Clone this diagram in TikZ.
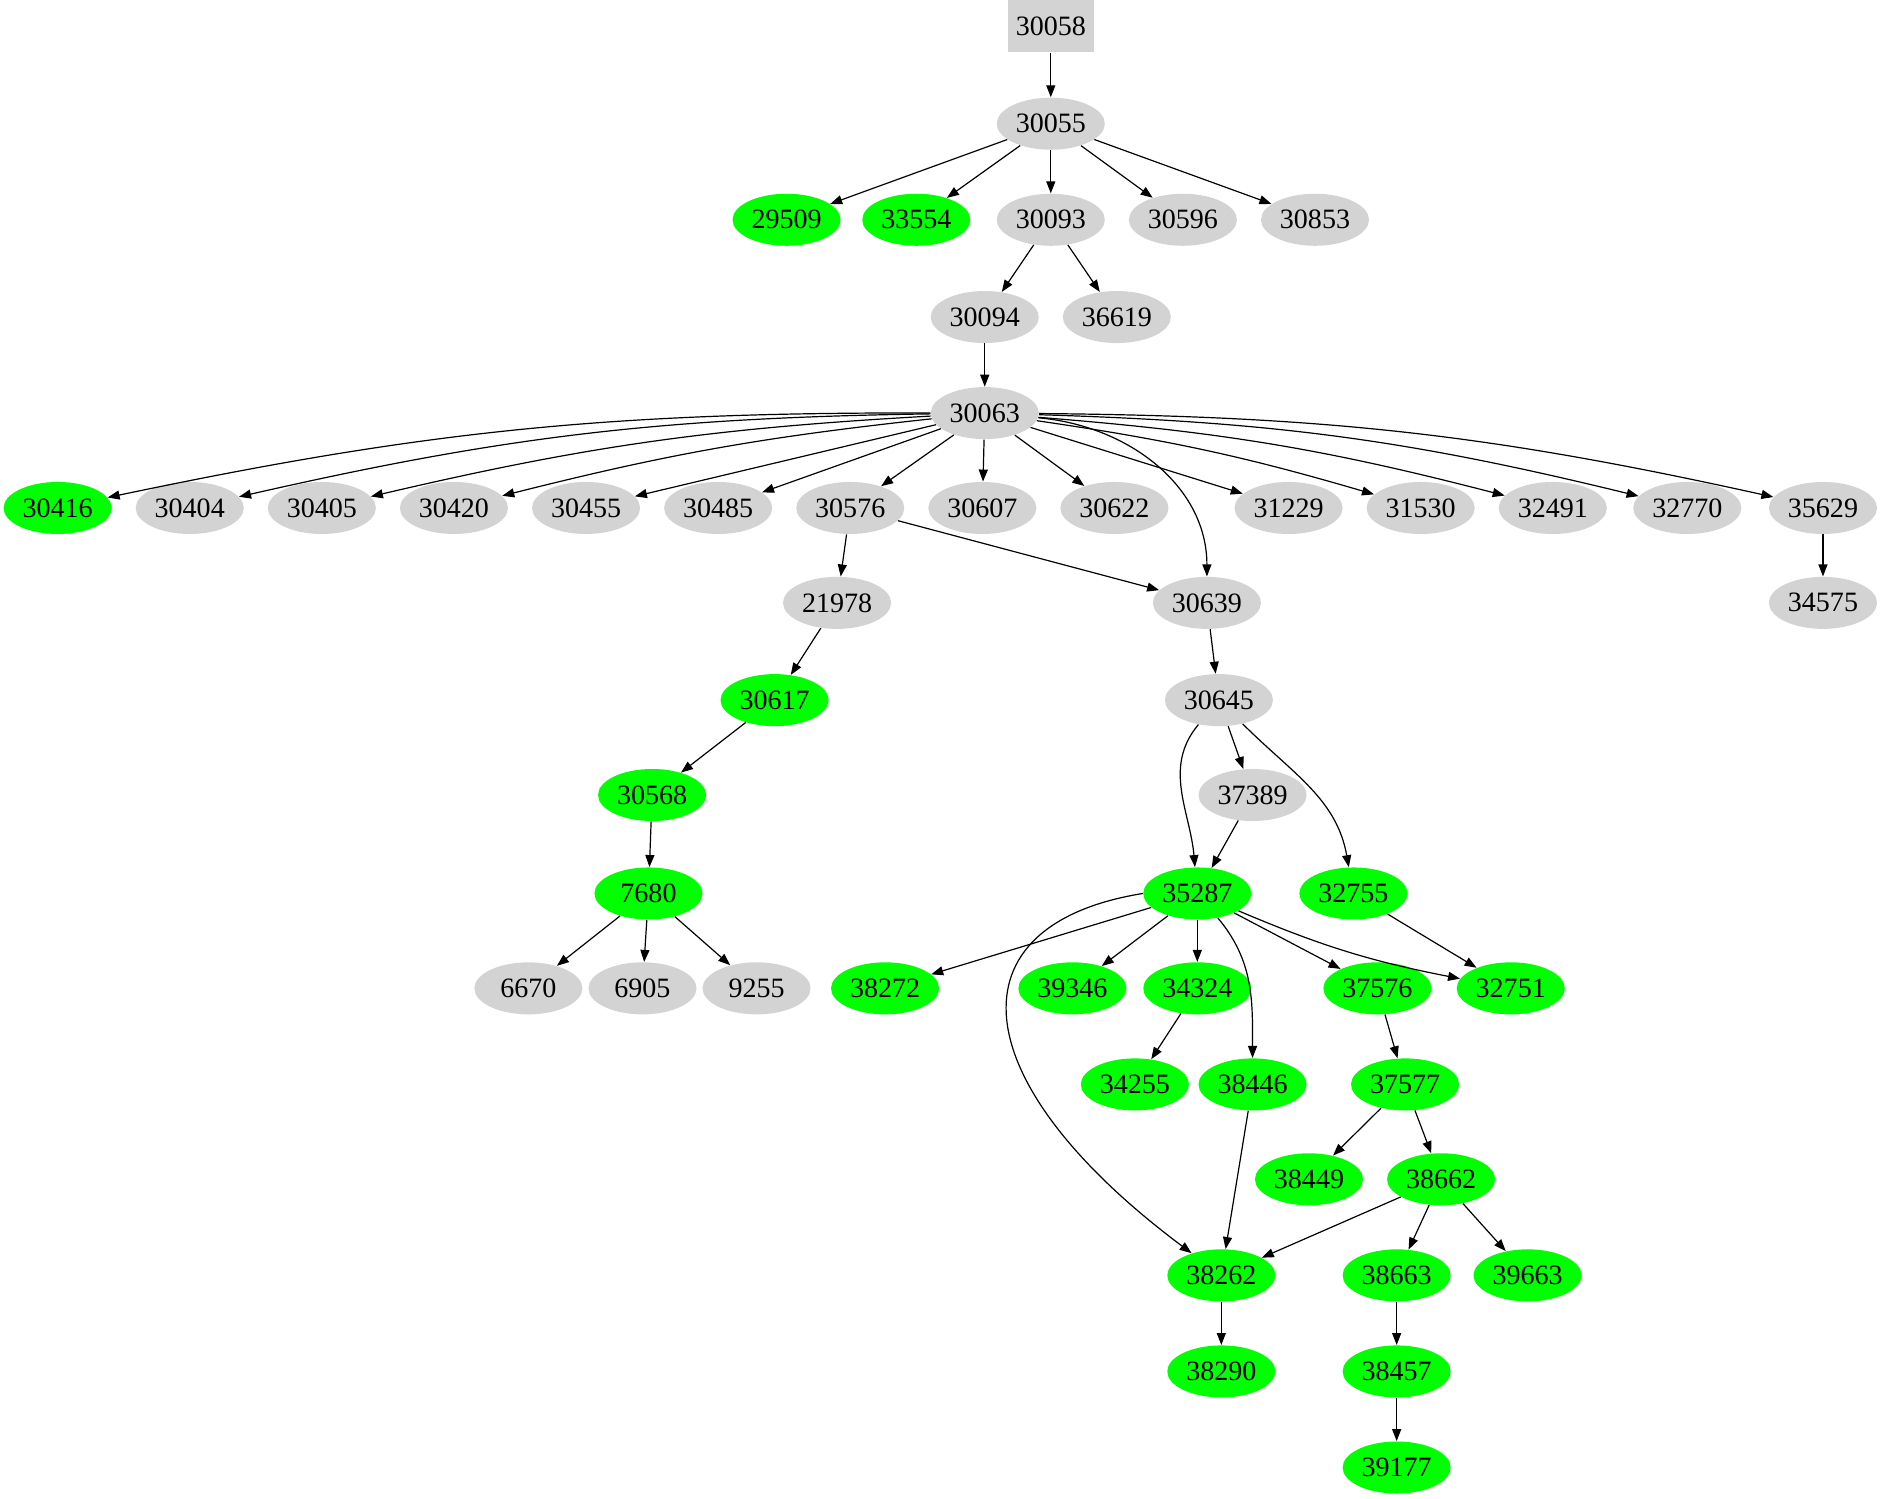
\documentclass[tikz,border=0pt]{standalone}
\usepackage{fontspec}
\setmainfont{Liberation Serif}
\usetikzlibrary{shapes.geometric,arrows.meta}
\begin{document}
\begin{tikzpicture}[x=0.6pt,y=-0.6pt,
  every node/.style={font=\fontsize{14pt}{16pt}\selectfont,inner sep=0pt},
  g/.style={ellipse,fill={rgb,255:red,211;green,211;blue,211},minimum width=54pt,minimum height=26pt},
  gr/.style={ellipse,fill={rgb,255:red,0;green,255;blue,0},minimum width=54pt,minimum height=26pt},
  bx/.style={rectangle,fill={rgb,255:red,211;green,211;blue,211},minimum width=43pt,minimum height=26pt},
  e/.style={-{Triangle[length=6pt,width=4.5pt]},black,line width=0.6pt}]
\useasboundingbox (0,0) rectangle (1568,1248);
\node[bx] (n30058) at (875,22) {30058};
\node[g] (n30055) at (875,103) {30055};
\node[gr] (n29509) at (655,183) {29509};
\node[gr] (n33554) at (763,183) {33554};
\node[g] (n30093) at (875,183) {30093};
\node[g] (n30596) at (985,183) {30596};
\node[g] (n30853) at (1095,183) {30853};
\node[g] (n30094) at (820,264) {30094};
\node[g] (n36619) at (930,264) {36619};
\node[g] (n30063) at (820,344) {30063};
\node[gr] (n30416) at (48,423) {30416};
\node[g] (n30404) at (158,423) {30404};
\node[g] (n30405) at (268,423) {30405};
\node[g] (n30420) at (378,423) {30420};
\node[g] (n30455) at (488,423) {30455};
\node[g] (n30485) at (598,423) {30485};
\node[g] (n30576) at (708,423) {30576};
\node[g] (n30607) at (818,423) {30607};
\node[g] (n30622) at (928,423) {30622};
\node[g] (n31229) at (1073,423) {31229};
\node[g] (n31530) at (1183,423) {31530};
\node[g] (n32491) at (1293,423) {32491};
\node[g] (n32770) at (1405,423) {32770};
\node[g] (n35629) at (1518,423) {35629};
\node[g] (n21978) at (697,502) {21978};
\node[g] (n30639) at (1005,502) {30639};
\node[g] (n34575) at (1518,502) {34575};
\node[gr] (n30617) at (645,583) {30617};
\node[g] (n30645) at (1015,583) {30645};
\node[gr] (n30568) at (543,662) {30568};
\node[g] (n37389) at (1043,662) {37389};
\node[gr] (n7680) at (540,744) {7680};
\node[gr] (n35287) at (997,744) {35287};
\node[gr] (n32755) at (1127,744) {32755};
\node[g] (n6670) at (440,823) {6670};
\node[g] (n6905) at (535,823) {6905};
\node[g] (n9255) at (630,823) {9255};
\node[gr] (n38272) at (737,823) {38272};
\node[gr] (n39346) at (893,823) {39346};
\node[gr] (n34324) at (997,823) {34324};
\node[gr] (n37576) at (1147,823) {37576};
\node[gr] (n32751) at (1258,823) {32751};
\node[gr] (n34255) at (945,903) {34255};
\node[gr] (n38446) at (1043,903) {38446};
\node[gr] (n37577) at (1170,903) {37577};
\node[gr] (n38449) at (1090,982) {38449};
\node[gr] (n38662) at (1200,982) {38662};
\node[gr] (n38262) at (1017,1062) {38262};
\node[gr] (n38663) at (1163,1062) {38663};
\node[gr] (n39663) at (1272,1062) {39663};
\node[gr] (n38290) at (1017,1142) {38290};
\node[gr] (n38457) at (1163,1142) {38457};
\node[gr] (n39177) at (1163,1222) {39177};
\foreach \a/\b in {30058/30055,30055/29509,30055/33554,30055/30093,30055/30596,30055/30853,
 30093/30094,30093/36619,30094/30063,30063/30455,30063/30485,30063/30576,30063/30607,30063/30622,
 30063/31229,30576/30639,30576/21978,21978/30617,30617/30568,30568/7680,7680/6670,7680/6905,7680/9255,
 35629/34575,30639/30645,30645/37389,37389/35287,35287/38272,35287/39346,35287/34324,35287/37576,
 32755/32751,34324/34255,37576/37577,37577/38449,37577/38662,38662/38262,38662/38663,38662/39663,
 38446/38262,38262/38290,38663/38457,38457/39177}
  \draw[e] (n\a) -- (n\b);
\draw[e] (n30063) to[bend right=6] (n30416);
\draw[e] (n30063) to[bend right=6] (n30404);
\draw[e] (n30063) to[bend right=5] (n30405);
\draw[e] (n30063) to[bend right=4] (n30420);
\draw[e] (n30063) to[bend left=4] (n31530);
\draw[e] (n30063) to[bend left=5] (n32491);
\draw[e] (n30063) to[bend left=6] (n32770);
\draw[e] (n30063) to[bend left=6] (n35629);
\draw[e] (n30063) to[out=-5,in=90] (n30639);
\draw[e] (n30645) to[out=-130,in=95] (n35287);
\draw[e] (n30645) to[out=-45,in=100] (n32755);
\draw[e] (n35287) to[out=-50,in=90] (n38446);
\draw[e] (n35287) to[bend right=6] (n32751);
\draw[e] (n35287.west) .. controls (790,770) and (800,900) .. (n38262);
\end{tikzpicture}
\end{document}
